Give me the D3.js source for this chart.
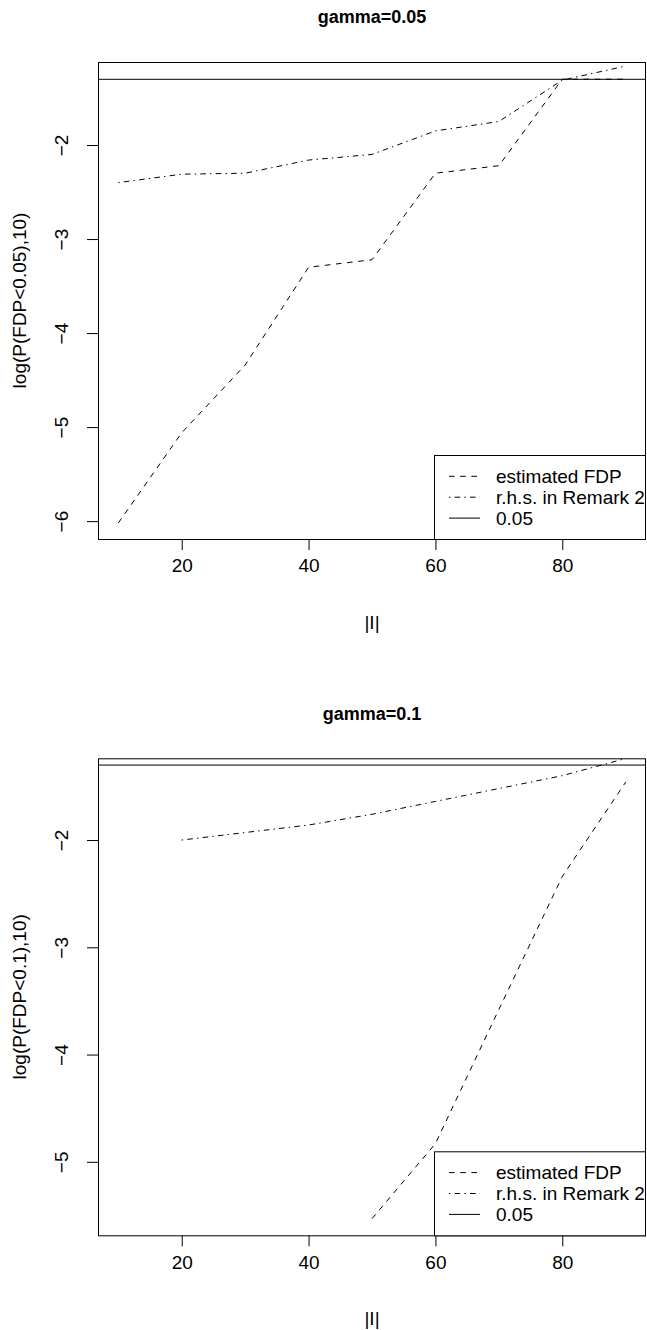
<!DOCTYPE html>
<html>
<head>
<meta charset="utf-8">
<script src="https://cdn.jsdelivr.net/npm/d3@7"></script>
<style>
  body { margin: 0; background: #fff; }
  svg { display: block; font-family: "Liberation Sans", Arial, sans-serif; }
</style>
</head>
<body>
<div id="chart"></div>
<script>
// |I| values on the x axis
var sizes = [10, 20, 30, 40, 50, 60, 70, 80, 90];

// gamma = 0.05
var fdpGamma05 = [-6.02, -5.06, -4.34, -3.30, -3.22, -2.30, -2.22, -1.30, -1.30];
var remarkGamma05 = [-2.40, -2.31, -2.30, -2.16, -2.10, -1.85, -1.75, -1.31, -1.16];

// gamma = 0.1 (estimated FDP is -Inf for small |I|)
var fdpGamma10 = [null, null, null, null, -5.53, -4.83, -3.58, -2.34, -1.46];
var remarkGamma10 = [null, -2.00, -1.93, -1.86, -1.76, -1.64, -1.52, -1.40, -1.24];

var xTicks = [20, 40, 60, 80];
var yTicksGamma05 = [-2, -3, -4, -5, -6];
var yTicksGamma10 = [-2, -3, -4, -5];
var yLimGamma05 = [-6.19, -1.117];
var yLimGamma10 = [-5.685, -1.238];
var xLim = [6.8, 93.2];

var threshold = Math.log10(0.05);
var legendLabels = ["estimated FDP", "r.h.s. in Remark 2", "0.05"];

var width = 647, height = 1330;
var box = {left: 98, right: 646, height: 477};
var dashed = "5.6,5.6";
var dotDash = "1.4,4.2,5.6,4.2";
var fontSize = "19px";

var svg = d3.select("#chart").append("svg")
    .attr("width", width)
    .attr("height", height);

var x = d3.scaleLinear().domain(xLim).range([box.left, box.right]);

function drawPanel(opts) {
  var top = opts.top, bottom = top + box.height;
  var y = d3.scaleLinear().domain(opts.yLim).range([bottom, top]);
  var g = svg.append("g");

  // title
  g.append("text")
      .attr("x", (box.left + box.right) / 2)
      .attr("y", top - 45)
      .attr("dy", "0.35em")
      .attr("text-anchor", "middle")
      .style("font-weight", "bold")
      .style("font-size", "18px")
      .text(opts.title);

  var line = d3.line()
      .defined(function(d) { return d[1] != null; })
      .x(function(d) { return x(d[0]); })
      .y(function(d) { return y(d[1]); });

  g.append("path")
      .datum(d3.zip(sizes, opts.fdp))
      .attr("d", line)
      .attr("fill", "none")
      .attr("stroke", "#000")
      .attr("stroke-dasharray", dashed);

  g.append("path")
      .datum(d3.zip(sizes, opts.remark))
      .attr("d", line)
      .attr("fill", "none")
      .attr("stroke", "#000")
      .attr("stroke-dasharray", dotDash);

  // abline at log10(0.05)
  g.append("line")
      .attr("x1", box.left).attr("x2", box.right)
      .attr("y1", y(threshold)).attr("y2", y(threshold))
      .attr("stroke", "#000");

  // x axis
  var xAxis = d3.axisBottom(x).tickValues(xTicks).tickSize(11).tickPadding(9);
  g.append("g")
      .attr("transform", "translate(0," + bottom + ")")
      .call(xAxis)
      .call(function(a) {
        a.select(".domain").remove();
        a.selectAll("line").attr("stroke", "#000");
        a.selectAll("text").attr("font-size", fontSize).attr("font-family", null).attr("fill", "#000");
      });

  // y axis, labels parallel to axis
  var yAxis = d3.axisLeft(y).tickValues(opts.yTicks).tickSize(11)
      .tickFormat(function(d) { return "\u2212" + Math.abs(d); });
  g.append("g")
      .attr("transform", "translate(" + box.left + ",0)")
      .call(yAxis)
      .call(function(a) {
        a.select(".domain").remove();
        a.selectAll("line").attr("stroke", "#000");
        a.selectAll("text")
            .attr("font-size", fontSize).attr("font-family", null).attr("fill", "#000")
            .attr("x", null).attr("dy", "0.35em")
            .attr("text-anchor", "middle")
            .attr("transform", "translate(-36.3,0) rotate(-90)");
      });

  // axis titles
  g.append("text")
      .attr("x", (box.left + box.right) / 2)
      .attr("y", bottom + 83)
      .attr("dy", "0.35em")
      .attr("text-anchor", "middle")
      .style("font-size", fontSize)
      .text("|I|");

  g.append("text")
      .attr("transform", "translate(19," + (top + box.height / 2) + ") rotate(-90)")
      .attr("dy", "0.35em")
      .attr("text-anchor", "middle")
      .style("font-size", fontSize)
      .text(opts.yLabel);

  // plot box
  g.append("rect")
      .attr("x", box.left + 0.5).attr("y", top + 0.5)
      .attr("width", box.right - box.left - 1).attr("height", box.height)
      .attr("fill", "none")
      .attr("stroke", "#000");

  // legend, bottom right
  var lw = 212, lh = 84;
  var lg = g.append("g")
      .attr("transform", "translate(" + (box.right - lw) + "," + (bottom - lh) + ")");
  lg.append("rect")
      .attr("x", 0.5).attr("y", 0.5)
      .attr("width", lw - 1).attr("height", lh)
      .attr("fill", "#fff")
      .attr("stroke", "#000");
  var styles = [dashed, dotDash, null];
  var rows = lg.selectAll("g.row").data(legendLabels).enter().append("g")
      .attr("class", "row")
      .attr("transform", function(d, i) { return "translate(0," + (21.3 + i * 20.9) + ")"; });
  rows.append("line")
      .attr("x1", 15).attr("x2", 46)
      .attr("stroke", "#000")
      .attr("stroke-dasharray", function(d, i) { return styles[i]; });
  rows.append("text")
      .attr("x", 62)
      .attr("dy", "0.35em")
      .style("font-size", fontSize)
      .text(function(d) { return d; });
}

drawPanel({
  top: 62, title: "gamma=0.05", yLabel: "log(P(FDP<0.05),10)",
  yLim: yLimGamma05, yTicks: yTicksGamma05, fdp: fdpGamma05, remark: remarkGamma05
});

drawPanel({
  top: 758.3, title: "gamma=0.1", yLabel: "log(P(FDP<0.1),10)",
  yLim: yLimGamma10, yTicks: yTicksGamma10, fdp: fdpGamma10, remark: remarkGamma10
});
</script>
</body>
</html>
